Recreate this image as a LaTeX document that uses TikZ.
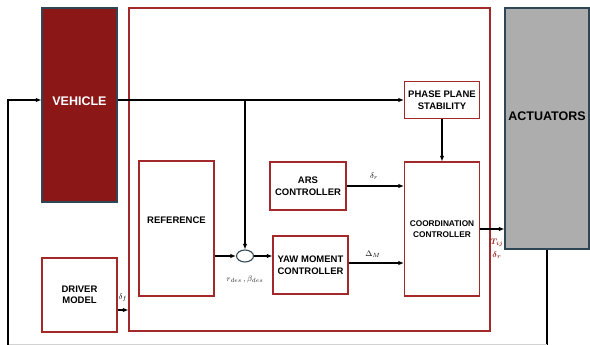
\documentclass[tikz,border=0pt]{standalone}
\usepackage{fontspec}
\usepackage{amsmath}
\usepackage{bm}
\setmainfont{Liberation Sans}
\usetikzlibrary{arrows.meta,calc,shapes.geometric}
\definecolor{vehred}{HTML}{8B1717}
\definecolor{boxred}{HTML}{A3282A}
\definecolor{slate}{HTML}{2F4656}
\definecolor{actgray}{HTML}{ADADAD}
\begin{document}
\begin{tikzpicture}[x=1pt,y=-1pt,
  box/.style={draw=boxred,line width=1.1pt,fill=white,inner sep=0pt,align=center,font=\fontsize{9.5}{11.5}\selectfont\bfseries},
  conn/.style={line width=1.6pt,-{Latex[length=5.5pt,width=4.5pt]}},
  lbl/.style={inner sep=0pt,font=\fontsize{8}{8}\selectfont}]
\useasboundingbox (0,0) rectangle (590,345);
% big controller frame
\node[draw=boxred,line width=1.1pt,minimum width=361pt,minimum height=323pt,inner sep=0pt] (ctrl) at (309.5,169.5) {};
% vehicle
\node[draw=slate,fill=vehred,line width=1.1pt,minimum width=75pt,minimum height=194pt,inner sep=0pt] (veh) at (79.5,105) {};
\node[inner sep=0pt,text=white,font=\fontsize{12.5}{14}\selectfont\bfseries] (vehlbl) at (79.5,101) {VEHICLE};
% actuators
\node[draw=slate,fill=actgray,line width=1.1pt,minimum width=84pt,minimum height=241pt,inner sep=0pt] (act) at (547,128.5) {};
\node[inner sep=0pt,font=\fontsize{12.5}{14}\selectfont\bfseries] (actlbl) at (547,116) {ACTUATORS};
% blocks
\node[box,minimum width=75pt,minimum height=37pt] (phase) at (442,100) {PHASE PLANE\\STABILITY};
\node[box,minimum width=75pt,minimum height=134pt,font=\fontsize{8.3}{11}\selectfont\bfseries] (coord) at (442,229) {COORDINATION\\CONTROLLER};
\node[box,minimum width=76pt,minimum height=48pt] (ars) at (308,186) {ARS\\CONTROLLER};
\node[box,minimum width=75pt,minimum height=58pt] (yaw) at (310.5,265) {YAW MOMENT\\CONTROLLER};
\node[box,minimum width=75pt,minimum height=135pt] (ref) at (176.5,228.5) {};
\node[inner sep=0pt,font=\fontsize{9.5}{11.5}\selectfont\bfseries] (reflbl) at (176.5,220) {REFERENCE};
\node[box,minimum width=75pt,minimum height=74pt] (drv) at (79.5,295) {DRIVER\\MODEL};
\node[draw=slate,fill=white,line width=1.1pt,ellipse,minimum width=17pt,minimum height=12pt,inner sep=0pt] (circ) at (245,256) {};
% connectors
\coordinate (j) at (245,100);
\draw[conn] (veh.east |- phase.west) -- (phase.west);
\draw[conn] (j) -- (circ.north);
\draw[conn] (ref.east |- circ.west) -- (circ.west);
\draw[conn] (circ.east) -- (yaw.west |- circ.east);
\draw[conn] (ars.east) -- (coord.west |- ars.east);
\coordinate (yout) at ($(yaw.east)+(0,-2)$);
\draw[conn] (yout) -- (coord.west |- yout);
\draw[conn] (phase.south) -- (coord.north);
\draw[conn] (coord.east) -- (act.west |- coord.east);
\coordinate (dout) at ($(drv.east)+(0,15)$);
\draw[conn] (dout) -- (ctrl.west |- dout);
% feedback loop
\coordinate (fb1) at (547,344.5);
\coordinate (fb2) at (8,344.5);
\coordinate (fb3) at (8,100);
\draw[line width=1.6pt] (act.south) -- (547,345);
\draw[gray!35,line width=1pt] (fb1) -- (fb2);
\draw[conn] (8,345) -- (fb3) -- (veh.west |- fb3);
% labels
\node[lbl] (ldf) at (123,298) {$\delta_f$};
\node[lbl,text=black!85] (lrb) at (245,279) {$r_{des}\,,\beta_{des}$};
\node[lbl] (ldr) at (374,176) {$\delta_r$};
\node[lbl] (ldm) at (373,254) {$\Delta_M$};
\node[lbl,text=boxred] (ltij) at (497,243) {$\bm{T_{ij}}$};
\node[lbl,text=boxred] (ldr2) at (497,255) {$\bm{\delta_r}$};
\end{tikzpicture}
\end{document}
